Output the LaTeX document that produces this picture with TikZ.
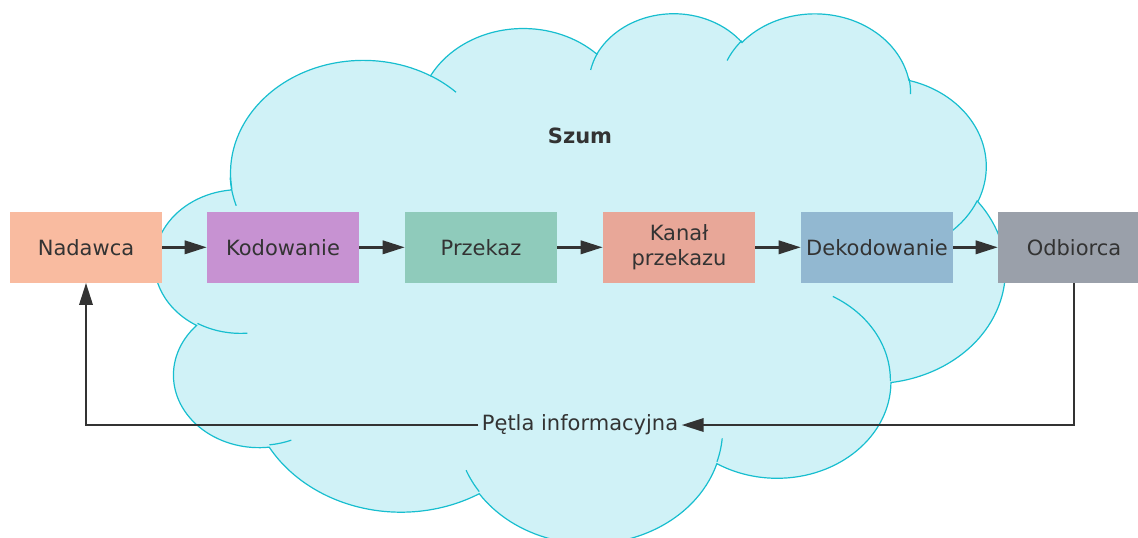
\documentclass[tikz,border=0pt]{standalone}
\usepackage{fontspec}
\setmainfont{DejaVu Sans}
\usetikzlibrary{arrows.meta}

\definecolor{tekst}{HTML}{333333}
\definecolor{chmura}{HTML}{17BECF}
\definecolor{chmuratlo}{HTML}{D0F2F7}
\definecolor{nadawca}{HTML}{F9BBA0}
\definecolor{kodowanie}{HTML}{C792D2}
\definecolor{przekaz}{HTML}{8FCBBB}
\definecolor{kanal}{HTML}{E8A798}
\definecolor{dekodowanie}{HTML}{92B8D1}
\definecolor{odbiorca}{HTML}{9AA0AA}

\tikzset{
  blok/.style={rectangle, minimum width=114pt, minimum height=53pt, inner sep=0pt,
    text=tekst, align=center, font=\fontsize{15.75}{19}\selectfont},
  strz/.style={-{Triangle[length=16.5pt,width=10pt]}, line width=1.8pt, draw=tekst},
  % one arc of the cloud outline (radii and ray angles)
  lobe/.code n args={4}{%
    \pgfmathsetmacro\lobeA{atan2((#1)*sin(#3),(#2)*cos(#3))}%
    \pgfmathsetmacro\lobeB{\lobeA+mod(atan2((#1)*sin(#3+#4),(#2)*cos(#3+#4))-\lobeA+720,360)}%
    \edef\lobepath{\noexpand\tikzset{insert path={arc[x radius=#1,y radius=#2,start angle=\lobeA,end angle=\lobeB]}}}%
    \lobepath}
}

\begin{document}
\begin{tikzpicture}[x=0.75pt,y=-0.75pt]
  \useasboundingbox (0,0) rectangle (1138,537);

  % cloud
  \begin{scope}[shift={(155,12)},x=1.475694pt,y=-0.920139pt]
    \filldraw[fill=chmuratlo,draw=chmura,line width=0.9pt]
      (39.00,143.70)
      [lobe={67.53}{91.90}{-190.4875}{123.7805}]
      [lobe={53.33}{72.67}{-144.1024}{89.9452}]
      [lobe={43.65}{59.45}{-145.8079}{99.7230}]
      [lobe={48.57}{65.95}{-130.9861}{117.2417}]
      [lobe={53.33}{72.73}{-78.7089}{109.0269}]
      [lobe={67.75}{92.20}{-46.2673}{130.2690}]
      [lobe={57.85}{78.67}{0.6250}{114.0333}]
      [lobe={67.52}{92.15}{22.4516}{115.1726}]
      [lobe={77.20}{105.43}{66.2426}{75.7110}]
      [lobe={43.60}{59.18}{-274.9421}{146.7356}]
      [lobe={43.45}{59.45}{-246.8285}{152.5189}] -- cycle;
    \draw[chmura,line width=0.9pt]
      (46.93,261.77) [lobe={43.45}{59.45}{86.7420}{26.4295}]
      (69.28,348.99) [lobe={43.60}{59.18}{73.6105}{11.4475}]
      (164.78,390.90) [lobe={67.52}{92.15}{137.6242}{14.0811}]
      (288.27,347.51) [lobe={67.52}{92.15}{6.4533}{15.9984}]
      (344.50,231.85) [lobe={57.85}{78.67}{-67.3000}{67.9250}]
      (417.98,153.54) [lobe={53.33}{72.73}{30.3180}{27.7515}]
      (383.24,54.26) [lobe={48.57}{65.95}{-13.7443}{14.8589}]
      (290.78,39.52) [lobe={48.57}{65.95}{-149.1815}{18.1954}]
      (221.41,47.20) [lobe={43.65}{59.45}{-163.4943}{17.6864}]
      (140.00,51.92) [lobe={67.53}{91.90}{-66.7070}{12.3194}]
      (41.27,157.89) [lobe={67.53}{91.90}{156.6222}{19.4320}];
  \end{scope}

  \node[text=tekst,font=\fontsize{15.75}{19}\selectfont\bfseries] (szum) at (580,136) {Szum};

  \node[blok,fill=nadawca] (nad) at (86,247.3) {Nadawca};
  \node[blok,fill=kodowanie] (kod) at (283,247.3) {Kodowanie};
  \node[blok,fill=przekaz] (prz) at (481,247.3) {Przekaz};
  \node[blok,fill=kanal] (kan) at (679,247.3) {Kanał\\przekazu};
  \node[blok,fill=dekodowanie] (dek) at (877,247.3) {Dekodowanie};
  \node[blok,fill=odbiorca] (odb) at (1074,247.3) {Odbiorca};

  \node[text=tekst,inner sep=2.5pt,font=\fontsize{15.75}{19}\selectfont] (petla) at (580,425) {Pętla informacyjna};

  \draw[strz] (nad) -- (kod);
  \draw[strz] (kod) -- (prz);
  \draw[strz] (prz) -- (kan);
  \draw[strz] (kan) -- (dek);
  \draw[strz] (dek) -- (odb);
  \draw[strz] (odb.south) |- (petla.east);
  \draw[strz] (petla.west) -| (nad.south);
\end{tikzpicture}
\end{document}
